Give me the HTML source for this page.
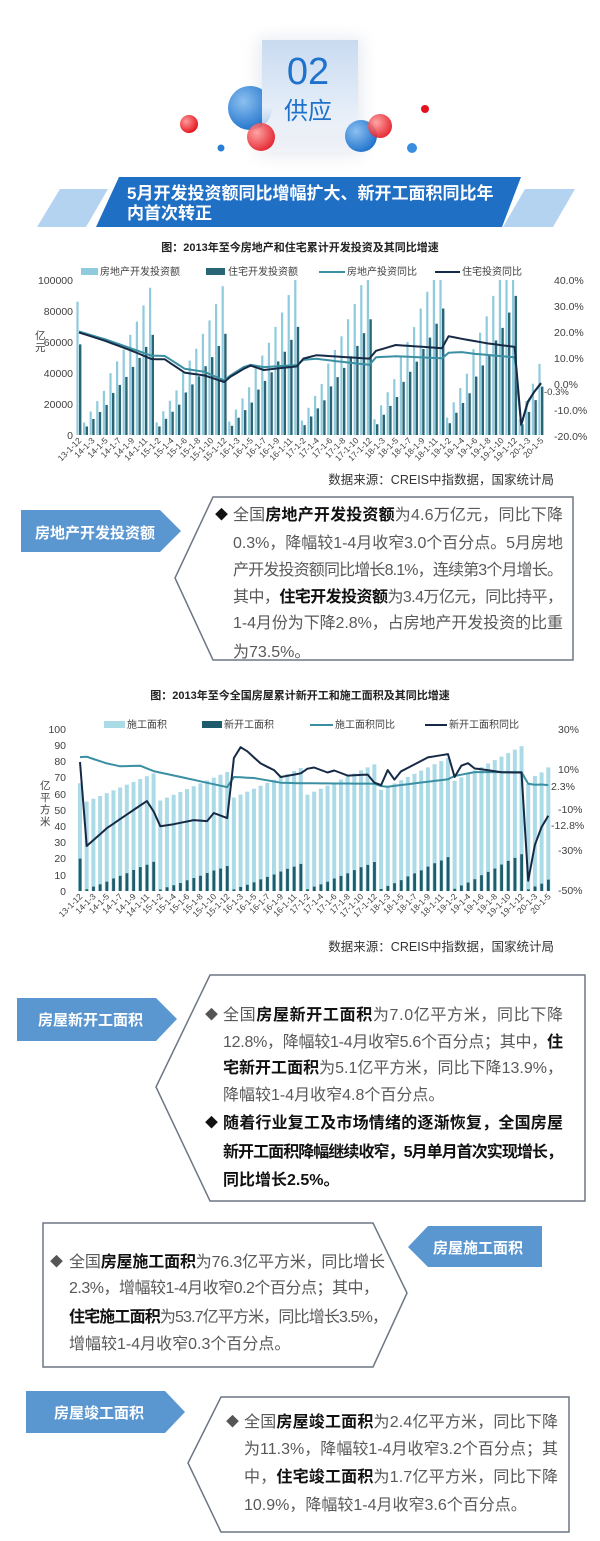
<!DOCTYPE html>
<html><head><meta charset="utf-8"><style>
html,body{margin:0;padding:0;background:#fff;}
svg{display:block;font-family:"Liberation Sans","Noto Sans CJK SC",sans-serif;}
.t{font-size:16px;fill:#595959;}
.bu{font-size:13px;}
.b{font-weight:bold;fill:#111;}
.ax{font-size:10.5px;fill:#404040;}
.lg{font-size:10px;fill:#404040;}
.xl{font-size:8.5px;fill:#404040;}
</style></head><body>
<svg id="s" width="600" height="1541" viewBox="0 0 600 1541" xmlns="http://www.w3.org/2000/svg">
<defs>
<linearGradient id="card" x1="0" y1="0" x2="0" y2="1"><stop offset="0" stop-color="#c9daf0"/><stop offset="0.6" stop-color="#e4edf8"/><stop offset="1" stop-color="#f6f9fd" stop-opacity="0.3"/></linearGradient>
<radialGradient id="bl" cx="0.35" cy="0.35" r="0.7"><stop offset="0" stop-color="#8cc0f0"/><stop offset="1" stop-color="#1f72cc"/></radialGradient>
<radialGradient id="rd" cx="0.35" cy="0.35" r="0.7"><stop offset="0" stop-color="#ff9a9a"/><stop offset="1" stop-color="#e3121c"/></radialGradient>
<filter id="sh" x="-50%" y="-50%" width="200%" height="200%"><feGaussianBlur stdDeviation="8"/></filter>
</defs>
<!-- header -->
<rect x="258" y="38" width="104" height="118" fill="#d8dde6" opacity="0.6" filter="url(#sh)"/>
<circle cx="250" cy="108" r="22" fill="url(#bl)"/>
<rect x="262" y="40" width="96" height="112" fill="url(#card)"/>
<text x="308" y="84" font-size="38" fill="#1f72cc" text-anchor="middle">02</text>
<text x="308" y="119" font-size="24" fill="#1f72cc" text-anchor="middle">供应</text>
<circle cx="261" cy="137" r="14" fill="url(#rd)" opacity="0.9"/>
<circle cx="189" cy="124" r="9" fill="url(#rd)"/>
<circle cx="221" cy="148" r="3.5" fill="#2a7fd4"/>
<circle cx="361" cy="136" r="16" fill="url(#bl)"/>
<circle cx="380" cy="126" r="12" fill="url(#rd)" opacity="0.9"/>
<circle cx="425" cy="109" r="4" fill="#e3121c"/>
<circle cx="412" cy="148" r="5" fill="#3a8ee0"/>
<!-- banner -->
<polygon points="60,189 108,189 86,227 37,227" fill="#b4d3f0"/>
<polygon points="525,189 575,189 553,227 503,227" fill="#b4d3f0"/>
<polygon points="119,177 521,177 502,227 96,227" fill="#1f6fc5"/>
<text x="127" y="199" font-size="17" font-weight="bold" fill="#fff">5月开发投资额同比增幅扩大、新开工面积同比年</text>
<text x="127" y="219" font-size="17" font-weight="bold" fill="#fff">内首次转正</text>

<!-- chart 1 -->
<text x="300" y="251" font-size="11" font-weight="bold" fill="#222" text-anchor="middle">图：2013年至今房地产和住宅累计开发投资及其同比增速</text>
<rect x="81" y="268" width="17" height="7" fill="#8fcbdc"/><text class="lg" x="100" y="275">房地产开发投资额</text>
<rect x="206" y="268" width="19" height="7" fill="#2a6576"/><text class="lg" x="228" y="275">住宅开发投资额</text>
<line x1="319" y1="272" x2="345" y2="272" stroke="#3a8fa3" stroke-width="2"/><text class="lg" x="347" y="275">房地产投资同比</text>
<line x1="435" y1="272" x2="460" y2="272" stroke="#172a45" stroke-width="2"/><text class="lg" x="462" y="275">住宅投资同比</text>
<g class="ax" text-anchor="end">
<text x="73" y="284">100000</text><text x="73" y="315">80000</text><text x="73" y="346">60000</text><text x="73" y="377">40000</text><text x="73" y="408">20000</text><text x="73" y="439">0</text></g>
<g class="ax"><text x="554" y="284">40.0%</text><text x="554" y="310">30.0%</text><text x="554" y="336">20.0%</text><text x="554" y="362">10.0%</text><text x="554" y="388">0.0%</text><text x="554" y="414">-10.0%</text><text x="554" y="440">-20.0%</text>
<text x="544" y="395" font-size="9.5">-0.3%</text></g>
<text class="ax" x="35" y="339">亿</text><text class="ax" x="35" y="351">元</text>
<g id="c1"></g>
<text x="554" y="484" font-size="12.5" fill="#333" text-anchor="end">数据来源：CREIS中指数据，国家统计局</text>

<!-- box1 -->
<polygon points="21,510 160,510 181,531 160,552 21,552" fill="#5a96d0"/>
<text x="35" y="538" font-size="15" font-weight="bold" fill="#fff">房地产开发投资额</text>
<polygon points="213,497 573,497 573,660 213,660 175,578" fill="none" stroke="#6d7784" stroke-width="1.5"/>
<text class="t bu" x="215" y="519" style="fill:#111">◆</text>
<text class="t" x="233" y="520" textLength="330" lengthAdjust="spacing">全国<tspan class="b">房地产开发投资额</tspan>为4.6万亿元，同比下降</text>
<text class="t" x="233" y="548" textLength="330" lengthAdjust="spacing">0.3%，降幅较1-4月收窄3.0个百分点。5月房地</text>
<text class="t" x="233" y="575" textLength="330" lengthAdjust="spacing">产开发投资额同比增长8.1%，连续第3个月增长。</text>
<text class="t" x="233" y="602" textLength="330" lengthAdjust="spacing">其中，<tspan class="b">住宅开发投资额</tspan>为3.4万亿元，同比持平，</text>
<text class="t" x="233" y="628" textLength="330" lengthAdjust="spacing">1-4月份为下降2.8%，占房地产开发投资的比重</text>
<text class="t" x="233" y="657">为73.5%。</text>

<!-- chart 2 -->
<text x="300" y="699" font-size="11" font-weight="bold" fill="#222" text-anchor="middle">图：2013年至今全国房屋累计新开工和施工面积及其同比增速</text>
<rect x="104" y="721" width="21" height="7" fill="#acdbe8"/><text class="lg" x="127" y="728">施工面积</text>
<rect x="202" y="721" width="20" height="7" fill="#1f5c6b"/><text class="lg" x="224" y="728">新开工面积</text>
<line x1="310" y1="725" x2="333" y2="725" stroke="#3a8fa3" stroke-width="2"/><text class="lg" x="335" y="728">施工面积同比</text>
<line x1="425" y1="725" x2="447" y2="725" stroke="#172a45" stroke-width="2"/><text class="lg" x="449" y="728">新开工面积同比</text>
<g class="ax" text-anchor="end">
<text x="66" y="733">100</text><text x="66" y="749">90</text><text x="66" y="765">80</text><text x="66" y="781">70</text><text x="66" y="798">60</text><text x="66" y="814">50</text><text x="66" y="830">40</text><text x="66" y="846">30</text><text x="66" y="862">20</text><text x="66" y="879">10</text><text x="66" y="895">0</text></g>
<g class="ax" font-size="9.5"><text x="558" y="733">30%</text><text x="558" y="773">10%</text><text x="551" y="790">2.3%</text><text x="558" y="813">-10%</text><text x="551" y="829">-12.8%</text><text x="558" y="854">-30%</text><text x="558" y="894">-50%</text></g>
<g class="ax"><text x="40" y="789">亿</text><text x="40" y="801">平</text><text x="40" y="813">方</text><text x="40" y="825">米</text></g>
<g id="c2"></g>
<text x="554" y="951" font-size="12.5" fill="#333" text-anchor="end">数据来源：CREIS中指数据，国家统计局</text>

<!-- box2 -->
<polygon points="17,998 156,998 177,1019 156,1041 17,1041" fill="#5a96d0"/>
<text x="38" y="1025" font-size="15" font-weight="bold" fill="#fff">房屋新开工面积</text>
<polygon points="210,975 585,975 585,1201 210,1201 156,1087" fill="none" stroke="#6d7784" stroke-width="1.5"/>
<text class="t bu" x="205" y="1019" style="fill:#555">◆</text>
<text class="t" x="223" y="1020" textLength="340" lengthAdjust="spacing">全国<tspan class="b">房屋新开工面积</tspan>为7.0亿平方米，同比下降</text>
<text class="t" x="223" y="1047" textLength="340" lengthAdjust="spacing">12.8%，降幅较1-4月收窄5.6个百分点；其中，<tspan class="b">住</tspan></text>
<text class="t" x="223" y="1073" textLength="340" lengthAdjust="spacing"><tspan class="b">宅新开工面积</tspan>为5.1亿平方米，同比下降13.9%，</text>
<text class="t" x="223" y="1100">降幅较1-4月收窄4.8个百分点。</text>
<text class="t bu" x="205" y="1127" style="fill:#111">◆</text>
<text class="t b" x="223" y="1128" textLength="340" lengthAdjust="spacing">随着行业复工及市场情绪的逐渐恢复，全国房屋</text>
<text class="t b" x="223" y="1157" textLength="340" lengthAdjust="spacing">新开工面积降幅继续收窄，5月单月首次实现增长，</text>
<text class="t b" x="223" y="1185">同比增长2.5%。</text>

<!-- box3 -->
<polygon points="43,1223 373,1223 407,1293 373,1367 43,1367" fill="none" stroke="#6d7784" stroke-width="1.5"/>
<polygon points="408,1247 428,1226 542,1226 542,1267 428,1267" fill="#5a96d0"/>
<text x="433" y="1253" font-size="15" font-weight="bold" fill="#fff">房屋施工面积</text>
<text class="t bu" x="50" y="1266" style="fill:#555">◆</text>
<text class="t" x="69" y="1267" textLength="316" lengthAdjust="spacing">全国<tspan class="b">房屋施工面积</tspan>为76.3亿平方米，同比增长</text>
<text class="t" x="69" y="1293" textLength="310" lengthAdjust="spacing">2.3%，增幅较1-4月收窄0.2个百分点；其中，</text>
<text class="t" x="69" y="1322" textLength="319" lengthAdjust="spacing"><tspan class="b">住宅施工面积</tspan>为53.7亿平方米，同比增长3.5%，</text>
<text class="t" x="69" y="1349">增幅较1-4月收窄0.3个百分点。</text>

<!-- box4 -->
<polygon points="26,1391 165,1391 185,1412 165,1433 26,1433" fill="#5a96d0"/>
<text x="54" y="1418" font-size="15" font-weight="bold" fill="#fff">房屋竣工面积</text>
<polygon points="221,1397 569,1397 569,1532 221,1532 188,1463" fill="none" stroke="#6d7784" stroke-width="1.5"/>
<text class="t bu" x="226" y="1426" style="fill:#555">◆</text>
<text class="t" x="244" y="1427" textLength="314" lengthAdjust="spacing">全国<tspan class="b">房屋竣工面积</tspan>为2.4亿平方米，同比下降</text>
<text class="t" x="244" y="1454" textLength="314" lengthAdjust="spacing">为11.3%，降幅较1-4月收窄3.2个百分点；其</text>
<text class="t" x="244" y="1482" textLength="314" lengthAdjust="spacing">中，<tspan class="b">住宅竣工面积</tspan>为1.7亿平方米，同比下降</text>
<text class="t" x="244" y="1510">10.9%，降幅较1-4月收窄3.6个百分点。</text>
</svg>
<script>
(function(){
var NS="http://www.w3.org/2000/svg";
function el(g,n,a,txt){var e=document.createElementNS(NS,n);for(var k in a)e.setAttribute(k,a[k]);if(txt)e.textContent=txt;g.appendChild(e);return e;}
function interp(keys){var r=[];for(var i=0;i<71;i++){for(var j=0;j<keys.length-1;j++){var a=keys[j],b=keys[j+1];if(i>=a[0]&&i<=b[0]){r.push(a[1]+(b[1]-a[1])*(i-a[0])/((b[0]-a[0])||1));break;}}}return r;}
function label(i){if(i==0)return"13-1-12";if(i>=67)return"20-1-"+(i-65);var y=14+Math.floor((i-1)/11),m=2+(i-1)%11;return y+"-1-"+m;}
function yr(i){if(i==0)return -1;if(i>=67)return 6;return Math.floor((i-1)/11);}
function mk(i){if(i==0)return 10;if(i>=67)return i-67;return (i-1)%11;}
var g=document.getElementById("c1");
var x0=79,st=6.6,fr=[0.085,0.16,0.23,0.30,0.42,0.50,0.58,0.68,0.77,0.88,1.0];
var ann=[95000,96000,102600,109800,120000,132000];
var c20=[10100,21900,33100,45900];
for(var i=0;i<71;i++){var x=x0+i*st,yy=yr(i),k=mk(i),v;
 if(yy<0)v=86000;else if(yy==6)v=c20[k];else v=ann[yy]*fr[k];
 var h=Math.min(v,100000)*155/100000,rv=v*0.68*155/100000;
 el(g,"rect",{x:x-2.6,y:435-h,width:2.2,height:h,fill:"#8fcbdc"});
 el(g,"rect",{x:x,y:435-Math.min(rv,155),width:2.4,height:Math.min(rv,155),fill:"#2a6576"});
 if(i%2==0){var lx=x+3,ly=441;el(g,"text",{"class":"xl",x:lx,y:ly,"text-anchor":"end",transform:"rotate(-45 "+lx+" "+ly+")"},label(i));}
}
function Yp(v){return 383-v*2.6;}
var re=interp([[0,19.8],[4,16.8],[8,13.2],[11,10.5],[13,10.4],[16,5.5],[19,4.3],[22,1.0],[23,3.0],[25,6.2],[26,7.0],[28,6.1],[33,6.9],[34,8.9],[36,9.3],[40,8.1],[44,7.0],[45,9.9],[48,10.3],[55,9.5],[56,11.6],[58,11.9],[60,11.2],[66,9.9],[67,-16.3],[68,-7.7],[69,-3.3],[70,-0.3]]);
var rs=interp([[0,19.4],[4,16.2],[8,12.4],[11,9.2],[13,9.1],[16,4.0],[19,2.9],[22,0.4],[23,2.5],[25,5.5],[26,6.7],[28,5.0],[33,6.4],[34,9.4],[36,10.7],[40,10.0],[44,9.4],[45,12.4],[48,14.6],[55,13.4],[56,18.0],[58,17.0],[62,15.2],[66,13.9],[67,-16.0],[68,-7.2],[69,-3.3],[70,0]]);
function pl(g,arr,fy,c,w,x0,st){var p=arr.map(function(v,i){return (x0+i*st).toFixed(1)+","+fy(v).toFixed(1);}).join(" ");el(g,"polyline",{points:p,fill:"none",stroke:c,"stroke-width":w,"stroke-linejoin":"round"});}
pl(g,re,Yp,"#3a8fa3",2,x0,st);pl(g,rs,Yp,"#172a45",2,x0,st);
var g2=document.getElementById("c2");var x2=80,s2=6.69;
var cA=[72.6,73.5,75.9,78.2,82.2,89.4],c20b=[66.0,71.0,73.2,76.3];
var nA=[18.0,15.4,16.7,17.9,20.9,22.7],n20=[1.0,2.8,4.5,7.0];
var nf=[0.06,0.15,0.23,0.32,0.43,0.52,0.61,0.72,0.82,0.90,1.0];
for(var i=0;i<71;i++){var x=x2+i*s2,yy=yr(i),k=mk(i),c,n;
 if(yy<0){c=66.5;n=20;}else if(yy==6){c=c20b[k];n=n20[k];}else{c=cA[yy]*(0.76+0.24*k/10);n=nA[yy]*nf[k];}
 el(g2,"rect",{x:x-2,y:891-c*1.62,width:4,height:c*1.62,fill:"#acdbe8"});
 el(g2,"rect",{x:x-1.3,y:891-n*1.62,width:2.8,height:n*1.62,fill:"#1f5c6b"});
 if(i%2==0){var lx=x+3,ly=897;el(g2,"text",{"class":"xl",x:lx,y:ly,"text-anchor":"end",transform:"rotate(-45 "+lx+" "+ly+")"},label(i));}
}
function Y2(v){return 729+(30-v)*2.025;}
var ca=interp([[0,16.1],[1,16.3],[4,13],[6,11.6],[9,11.9],[11,9.2],[22,1.3],[23,6.3],[26,5.8],[30,3.5],[33,3.2],[44,3.0],[45,1.8],[46,1.5],[55,5.2],[56,6.8],[59,8.7],[66,8.7],[67,3.0],[68,2.5],[69,2.6],[70,2.3]]);
var nb=interp([[0,13.7],[1,-27.8],[4,-19],[8,-10],[10,-5.6],[11,-10.7],[12,-18],[14,-17],[17,-15],[19,-15.5],[20,-11.5],[22,-14],[23,15.7],[24,21],[25,19],[27,13],[29,9.7],[30,6.3],[33,8.1],[34,10.4],[35,11],[37,8.5],[38,9.5],[40,7],[43,7.5],[44,3.5],[45,2.3],[46,9.7],[47,5],[48,9.1],[50,12.5],[52,16],[55,17.6],[56,6.3],[57,11.9],[58,13.1],[59,10.5],[60,10.1],[63,8.6],[66,8.5],[67,-44.9],[68,-27.2],[69,-18.4],[70,-12.8]]);
pl(g2,ca,Y2,"#3a8fa3",2,x2,s2);pl(g2,nb,Y2,"#172a45",2,x2,s2);
})();
</script>
</body></html>
